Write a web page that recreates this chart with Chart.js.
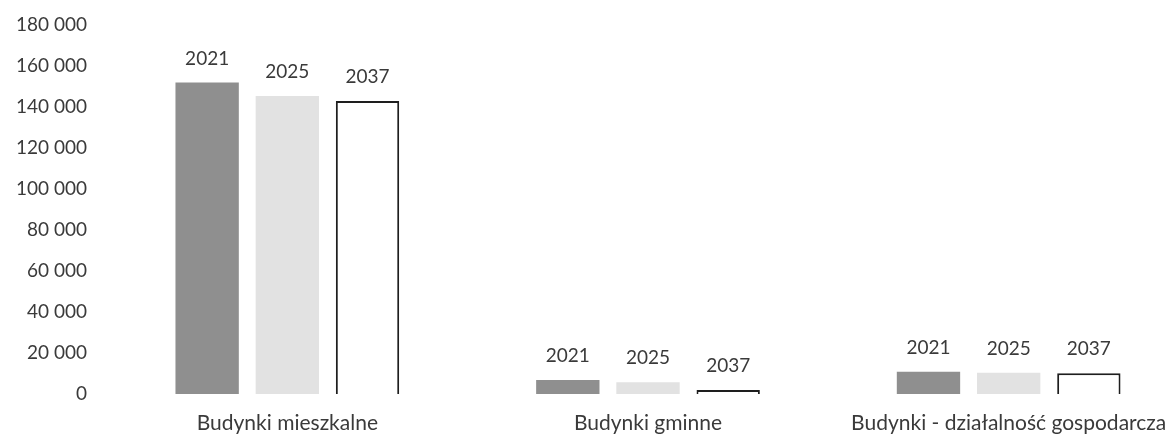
<!DOCTYPE html>
<html>
<head>
<meta charset="utf-8">
<script src="https://cdn.jsdelivr.net/npm/chart.js@4/dist/chart.umd.min.js"></script>
<style>
html,body{margin:0;padding:0;background:#fff;overflow:hidden;}
#wrap{width:1189px;height:440px;position:relative;}
</style>
</head>
<body>
<div id="wrap"><canvas id="buildingsChart"></canvas></div>
<script>

const categories = [
'Budynki mieszkalne',
'Budynki gminne',
'Budynki - działalność gospodarcza'
];

const years = ['2021','2025','2037'];

const values2021 = [151900, 6800, 10900];
const values2025 = [145400, 5700, 10400];
const values2037 = [142900, 1900, 10100];

const yTicks = [0,20000,40000,60000,80000,100000,120000,140000,160000,180000];

const textColor = '#3a3a3a';
const fontFamily = 'Lato, "Open Sans", sans-serif';

// prints the series name (year) above every bar
const yearLabels = {
id:'yearLabels',
afterDatasetsDraw(chart){
const ctx = chart.ctx;
ctx.save();
ctx.font = '19px ' + fontFamily;
ctx.fillStyle = textColor;
ctx.textAlign = 'center';
ctx.textBaseline = 'middle';
chart.data.datasets.forEach((ds,i)=>{
chart.getDatasetMeta(i).data.forEach(bar=>{
ctx.fillText(ds.label, bar.x, bar.y - 24);
});
});
ctx.restore();
}
};

new Chart(

document.getElementById('buildingsChart'),

{
type:'bar',

data:{

labels:categories,

datasets:[
{
label:years[0],
data:values2021,
backgroundColor:'#8f8f8f',
borderWidth:0
},
{
label:years[1],
data:values2025,
backgroundColor:'#e2e2e2',
borderWidth:0
},
{
label:years[2],
data:values2037,
backgroundColor:'#ffffff',
borderColor:'#1e1e1e',
borderWidth:2,
borderSkipped:'bottom'
}
]
},

options:{
responsive:true,
maintainAspectRatio:false,
animation:false,
layout:{padding:{top:25,right:0,bottom:0,left:0}},
datasets:{
bar:{
categoryPercentage:0.667,
barPercentage:0.79
}
},
plugins:{
legend:{display:false},
tooltip:{enabled:false}
},
scales:{
x:{
grid:{display:false,drawTicks:false},
border:{display:false},
ticks:{
color:textColor,
font:{family:fontFamily,size:21},
maxRotation:0,
autoSkip:false,
padding:17
},
afterFit(scale){ scale.height = 46; }
},
y:{
min:0,
max:180000,
grid:{display:false,drawTicks:false},
border:{display:false},
afterBuildTicks(scale){
scale.ticks = yTicks.map(v=>({value:v}));
},
ticks:{
color:textColor,
font:{family:fontFamily,size:19},
padding:20,
callback:v=>v.toLocaleString('en-US').replace(/,/g,' ')
},
// fixed axis width; drop the extra top/bottom room the tick padding adds
afterFit(scale){
scale.width = 107;
scale.paddingTop = 0;
scale.paddingBottom = 0;
}
}
}
},

plugins:[yearLabels]
}
);

</script>
</body>
</html>
